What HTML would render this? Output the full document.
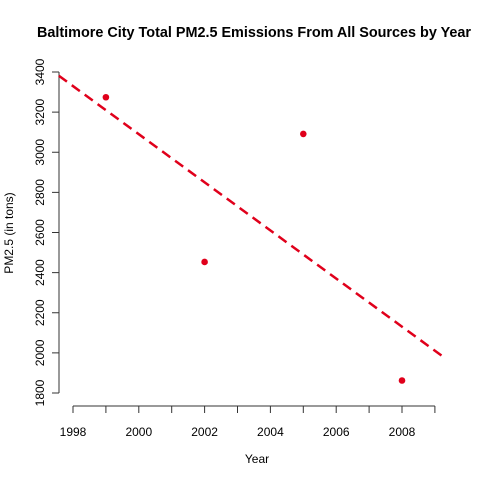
<!DOCTYPE html>
<html><head><meta charset="utf-8"><style>
body{margin:0;background:#fff}
svg text{font-family:"Liberation Sans",Arial,sans-serif}
</style></head><body>
<svg id="chart" width="480" height="480">
<text x="254" y="37" text-anchor="middle" font-size="14.4" font-weight="bold">Baltimore City Total PM2.5 Emissions From All Sources by Year</text>
<text x="257" y="463" text-anchor="middle" font-size="12">Year</text>
<text transform="translate(13,233) rotate(-90)" text-anchor="middle" font-size="12">PM2.5 (in tons)</text>
<g id="axes"></g><g id="marks"></g>
</svg>
<script>
const years=[1999,2002,2005,2008];
const emissions=[3274.18,2453.16,3091.35,1862.28];
const xTicks=[1998,1999,2000,2001,2002,2003,2004,2005,2006,2007,2008,2009];
const xLabels=["1998","2000","2002","2004","2006","2008"];
const yTicks=[1800,2000,2200,2400,2600,2800,3000,3200,3400];
const NS="http://www.w3.org/2000/svg";
const sx=v=>73+(v-1998)*32.9;
const sy=v=>393-(v-1800)*(321/1600);
function mk(p,tag,a){const e=document.createElementNS(NS,tag);for(const k in a)e.setAttribute(k,a[k]);p.appendChild(e);return e;}
const ax=document.getElementById('axes'),mg=document.getElementById('marks');
const xl=mk(ax,'line',{x1:sx(xTicks[0]),x2:sx(xTicks[xTicks.length-1]),y1:406,y2:406,stroke:'#333'});


xTicks.forEach(t=>{const l=mk(ax,'line',{x1:sx(t),x2:sx(t),y1:406,y2:413,stroke:'#333'});

});
xLabels.forEach(t=>{const e=mk(ax,'text',{x:sx(+t),y:436,'text-anchor':'middle','font-size':12});e.textContent=t;

});
const yl=mk(ax,'line',{x1:59,x2:59,y1:sy(yTicks[0]),y2:sy(yTicks[yTicks.length-1]),stroke:'#333'});


yTicks.forEach(t=>{const l=mk(ax,'line',{x1:52,x2:59,y1:sy(t),y2:sy(t),stroke:'#333'});


const e=mk(ax,'text',{transform:`translate(44,${sy(t)}) rotate(-90)`,'text-anchor':'middle','font-size':12});e.textContent=t;

});
const n=years.length,mx=years.reduce((a,b)=>a+b)/n,my=emissions.reduce((a,b)=>a+b)/n;
let sxy=0,sxx=0;years.forEach((x,i)=>{sxy+=(x-mx)*(emissions[i]-my);sxx+=(x-mx)**2;});
const b=sxy/sxx,a=my-b*mx,x0=1997.57,x1=2009.28;
const rl=mk(mg,'line',{x1:sx(x0),y1:sy(a+b*x0),x2:sx(x1),y2:sy(a+b*x1),stroke:'#e0001b','stroke-width':2.5,'stroke-dasharray':'10 6'});


years.forEach((y,i)=>{const c=mk(mg,'circle',{cx:sx(y),cy:sy(emissions[i]),r:3.3,fill:'#e0001b'});

});
</script>
</body></html>
